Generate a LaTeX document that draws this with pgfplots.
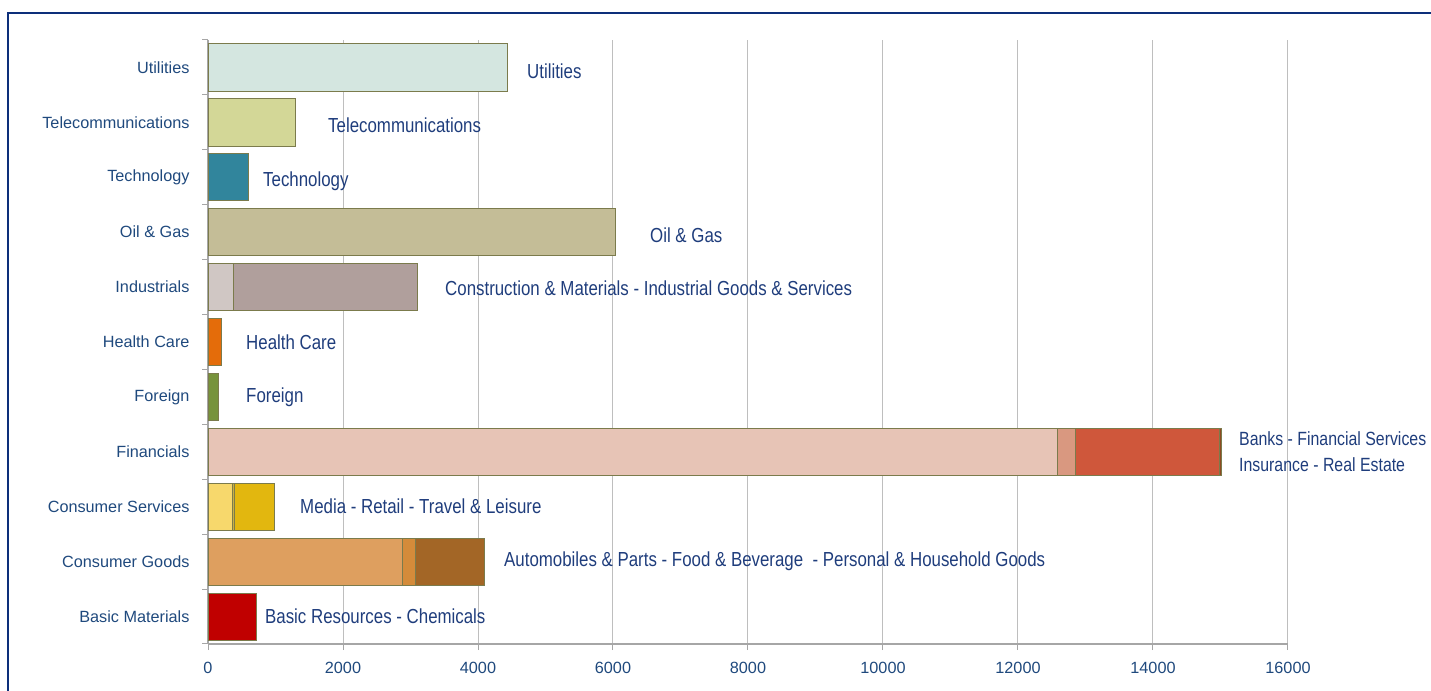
\documentclass[border=0pt]{standalone}
\usepackage{fontspec}
\setmainfont{Liberation Sans}
\newfontfamily\cond[FakeStretch=0.83]{Liberation Sans}
\usepackage{pgfplots}
\pgfplotsset{compat=1.18}
\definecolor{frame}{HTML}{0D2F7A}
\definecolor{tickblue}{HTML}{1F497D}
\definecolor{labblue}{HTML}{1F3D7C}
\definecolor{gridgray}{HTML}{BEBEBE}
\definecolor{axisgray}{HTML}{A6A6A6}
\definecolor{edge}{HTML}{7B7B4C}
\definecolor{cUtil}{HTML}{D4E6E0}
\definecolor{cTel}{HTML}{D3D797}
\definecolor{cTech}{HTML}{31859C}
\definecolor{cOil}{HTML}{C4BD97}
\definecolor{cIndA}{HTML}{D0C7C4}
\definecolor{cIndB}{HTML}{B09F9C}
\definecolor{cHealth}{HTML}{E46C0A}
\definecolor{cForeign}{HTML}{77933C}
\definecolor{cFinA}{HTML}{E7C4B6}
\definecolor{cFinB}{HTML}{D99880}
\definecolor{cFinC}{HTML}{CF573B}
\definecolor{cFinD}{HTML}{8E4B22}
\definecolor{cCSA}{HTML}{F7D86C}
\definecolor{cCSB}{HTML}{C9B040}
\definecolor{cCSC}{HTML}{E2B70F}
\definecolor{cCGA}{HTML}{DE9F5F}
\definecolor{cCGB}{HTML}{D48B3A}
\definecolor{cCGC}{HTML}{A36626}
\definecolor{cBasic}{HTML}{C00000}
\tikzset{lab/.style={font=\cond\fontsize{20.4}{26}\selectfont, text=labblue, anchor=west, inner sep=0pt}}
\pgfplotsset{seg/.style={xbar, bar width=0.86, bar shift=0pt, draw=edge, line width=0.8bp}}
\begin{document}
\begin{tikzpicture}
\useasboundingbox (0bp,0bp) rectangle (1431bp,691bp);
\draw[line width=2.6bp, frame] (8bp,-10bp) -- (8bp,678bp) -- (1445bp,678bp);
\begin{axis}[
  at={(208bp,47bp)}, anchor=south west,
  scale only axis, width=1080bp, height=604bp,
  xmin=0, xmax=16000, ymin=-0.5, ymax=10.5,
  clip=false,
  axis x line*=bottom, axis y line*=left,
  axis line style={draw=axisgray, line width=1.2bp},
  xtick={0,2000,...,16000},
  xmajorgrids, major grid style={draw=gridgray, line width=1bp},
  scaled x ticks=false,
  /pgf/number format/assume math mode=true,
  xticklabel style={/pgf/number format/1000 sep={}, font=\fontsize{16.3}{18}\selectfont, text=tickblue, yshift=-9bp},
  x tick style={draw=axisgray, line width=1bp},
  tick align=outside, major tick length=6bp,
  ytick={0,...,10},
  yticklabels={Basic Materials,Consumer Goods,Consumer Services,Financials,Foreign,Health Care,Industrials,Oil \& Gas,Technology,Telecommunications,Utilities},
  yticklabel style={font=\fontsize{16.3}{18}\selectfont, text=tickblue, xshift=-9bp},
  y tick style={draw=none},
  minor ytick={-0.5,0.5,...,10.5},
  minor y tick style={draw=axisgray, line width=1bp},
  minor tick length=6bp,
]
\addplot[seg, fill=cUtil] coordinates {(4430,10)};
\addplot[seg, fill=cTel] coordinates {(1289,9)};
\addplot[seg, fill=cTech] coordinates {(593,8)};
\addplot[seg, fill=cOil] coordinates {(6030,7)};
\addplot[seg, fill=cIndB] coordinates {(3096,6)};
\addplot[seg, fill=cIndA] coordinates {(370,6)};
\addplot[seg, fill=cHealth] coordinates {(193,5)};
\addplot[seg, fill=cForeign] coordinates {(148,4)};
\addplot[seg, fill=cFinD] coordinates {(15018,3)};
\addplot[seg, fill=cFinC] coordinates {(14982,3)};
\addplot[seg, fill=cFinB] coordinates {(12844,3)};
\addplot[seg, fill=cFinA] coordinates {(12582,3)};
\addplot[seg, fill=cCSC] coordinates {(988,2)};
\addplot[seg, fill=cCSB] coordinates {(390,2)};
\addplot[seg, fill=cCSA] coordinates {(365,2)};
\addplot[seg, fill=cCGC] coordinates {(4089,1)};
\addplot[seg, fill=cCGB] coordinates {(3072,1)};
\addplot[seg, fill=cCGA] coordinates {(2879,1)};
\addplot[seg, fill=cBasic] coordinates {(711,0)};
\node[lab] at (axis cs:4726,9.94) {Utilities};
\node[lab] at (axis cs:1778,8.95) {Telecommunications};
\node[lab] at (axis cs:815,7.93) {Technology};
\node[lab] at (axis cs:6548,6.95) {Oil \& Gas};
\node[lab] at (axis cs:3511,5.97) {Construction \& Materials - Industrial Goods \& Services};
\node[lab] at (axis cs:563,5) {Health Care};
\node[lab] at (axis cs:563,4) {Foreign};
\node[lab, font=\cond\fontsize{19.2}{24}\selectfont] at (axis cs:15274,3.24) {Banks - Financial Services};
\node[lab, font=\cond\fontsize{19.2}{24}\selectfont] at (axis cs:15274,2.76) {Insurance - Real Estate};
\node[lab] at (axis cs:1363,2) {Media - Retail - Travel \& Leisure};
\node[lab] at (axis cs:4385,1) {Automobiles \& Parts - Food \& Beverage~ - Personal \& Household Goods};
\node[lab] at (axis cs:844,0) {Basic Resources - Chemicals};
\end{axis}
\end{tikzpicture}
\end{document}
